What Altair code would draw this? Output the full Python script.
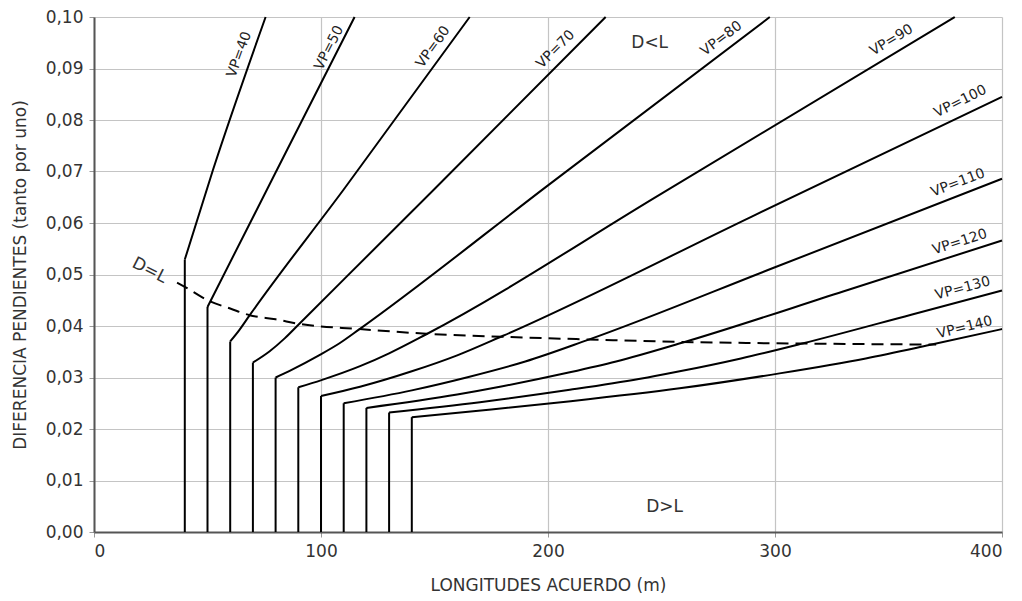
import altair as alt
import pandas as pd

# ---- data ----
VP_NAMES = ["VP=40", "VP=50", "VP=60", "VP=70", "VP=80", "VP=90", "VP=100",
            "VP=110", "VP=120", "VP=130", "VP=140"]

# each curve: vertical part (first two points) then the bending part
VP40_L = [40, 40, 52.4, 75.6]
VP40_D = [0.0, 0.0529, 0.0703, 0.100]
VP50_L = [50, 50, 80, 114.8]
VP50_D = [0.0, 0.0437, 0.0698, 0.100]
VP60_L = [60, 60, 64, 68.6, 110, 165.5]
VP60_D = [0.0, 0.0370, 0.0392, 0.0421, 0.0665, 0.100]
VP70_L = [70, 70, 77.4, 84, 90.6, 150, 225.4]
VP70_D = [0.0, 0.0329, 0.0351, 0.0376, 0.0405, 0.0666, 0.100]
VP80_L = [80, 80, 86.2, 99.5, 108, 117, 200, 297.7]
VP80_D = [0.0, 0.0300, 0.0313, 0.0344, 0.0366, 0.0394, 0.0673, 0.100]
VP90_L = [90, 90, 100.2, 117.2, 130, 146.4, 250, 379.2]
VP90_D = [0.0, 0.0281, 0.0295, 0.0322, 0.0347, 0.0384, 0.0657, 0.100]
VP100_L = [100, 100, 117.2, 140, 160, 180.2, 290, 400]
VP100_D = [0.0, 0.0264, 0.0282, 0.0312, 0.0343, 0.0381, 0.0613, 0.0845]
VP110_L = [110, 110, 140, 165, 190, 217, 300, 400]
VP110_D = [0.0, 0.0250, 0.0275, 0.0301, 0.0331, 0.0372, 0.0514, 0.0686]
VP120_L = [120, 120, 160, 180, 209.6, 230, 259.5, 330, 400]
VP120_D = [0.0, 0.0241, 0.0267, 0.0283, 0.0310, 0.0331, 0.0368, 0.0467, 0.0566]
VP130_L = [130, 130, 170, 209.6, 240, 258, 285, 312, 360, 400]
VP130_D = [0.0, 0.0232, 0.0252, 0.0276, 0.0297, 0.0312, 0.0337, 0.0366, 0.0422, 0.0469]
VP140_L = [140, 140, 175, 210, 258, 302, 340, 368, 400]
VP140_D = [0.0, 0.0223, 0.0238, 0.0254, 0.0279, 0.0308, 0.0337, 0.0363, 0.0394]

# D = L boundary (dashed)
DL_L = [36.6, 40, 51, 60, 68.6, 80, 90.6, 117, 146.4, 180.2, 217, 259.5, 310, 371]
DL_D = [0.0484, 0.0476, 0.0448, 0.0434, 0.0421, 0.0413, 0.0404, 0.0394, 0.0385,
        0.0379, 0.0374, 0.0369, 0.0366, 0.0364]

# curve labels
LAB_TEXT = ["VP=40", "VP=50", "VP=60", "VP=70", "VP=80", "VP=90", "VP=100",
            "VP=110", "VP=120", "VP=130", "VP=140"]
LAB_L = [64.0, 103.6, 149.4, 203.4, 276.4, 351.3, 381.7, 380.6, 381.4, 382.7, 383.6]
LAB_D = [0.0927, 0.0940, 0.0942, 0.0937, 0.0958, 0.0955, 0.0836, 0.0678, 0.0563, 0.0473, 0.0397]
LAB_ANG = [290, 297, 306, 315, 323, 329, 334, 339, 342, 345, 346]

# region labels
REG_TEXT = ["D<L", "D>L", "D=L"]
REG_L = [244.8, 251.4, 24.5]
REG_D = [0.0950, 0.0049, 0.0508]
REG_ANG = [0, 0, 27]

X_TICKS = [0, 100, 200, 300, 400]
Y_TICKS = [0.00, 0.01, 0.02, 0.03, 0.04, 0.05, 0.06, 0.07, 0.08, 0.09, 0.10]

# ---- build tables ----
curves = [VP40_L, VP50_L, VP60_L, VP70_L, VP80_L, VP90_L, VP100_L, VP110_L,
          VP120_L, VP130_L, VP140_L]
values = [VP40_D, VP50_D, VP60_D, VP70_D, VP80_D, VP90_D, VP100_D, VP110_D,
          VP120_D, VP130_D, VP140_D]
rows, vrows = [], []
for name, Ls, Ds in zip(VP_NAMES, curves, values):
    vrows.append({"vp": name, "L": Ls[0], "D0": Ds[0], "D1": Ds[1]})
    for i, (l, d) in enumerate(zip(Ls[1:], Ds[1:])):
        rows.append({"vp": name, "L": l, "D": d, "i": i})
df = pd.DataFrame(rows)
df_v = pd.DataFrame(vrows)
df_dl = pd.DataFrame({"L": DL_L, "D": DL_D, "i": list(range(len(DL_L)))})
df_lab = pd.DataFrame({"t": LAB_TEXT, "L": LAB_L, "D": LAB_D, "a": LAB_ANG})
df_reg = pd.DataFrame({"t": REG_TEXT, "L": REG_L, "D": REG_D, "a": REG_ANG})

FONT = "DejaVu Sans"

xs = alt.Scale(domain=[0, 400], nice=False, zero=False)
ys = alt.Scale(domain=[0, 0.10], nice=False, zero=False)

x_axis = alt.Axis(values=X_TICKS, title="LONGITUDES ACUERDO (m)", grid=True,
                  labelPadding=6, titlePadding=18)
y_axis = alt.Axis(values=Y_TICKS, title="DIFERENCIA PENDIENTES (tanto por uno)",
                  grid=True, labelExpr="replace(format(datum.value, '.2f'), '.', ',')",
                  labelPadding=6, titlePadding=16)

lines = alt.Chart(df).mark_line(color="black", strokeWidth=2,
                                interpolate="monotone").encode(
    x=alt.X("L:Q", scale=xs, axis=x_axis),
    y=alt.Y("D:Q", scale=ys, axis=y_axis),
    detail="vp:N",
    order="i:Q",
)

verticals = alt.Chart(df_v).mark_rule(color="black", strokeWidth=2).encode(
    x=alt.X("L:Q", scale=xs),
    y=alt.Y("D0:Q", scale=ys),
    y2="D1:Q",
)

dashed = alt.Chart(df_dl).mark_line(color="black", strokeWidth=2,
                                    strokeDash=[12, 7],
                                    interpolate="monotone").encode(
    x=alt.X("L:Q", scale=xs),
    y=alt.Y("D:Q", scale=ys),
    order="i:Q",
)

labels = alt.Chart(df_lab).mark_text(font=FONT, fontSize=14, color="#222").encode(
    x=alt.X("L:Q", scale=xs),
    y=alt.Y("D:Q", scale=ys),
    text="t:N",
    angle=alt.Angle("a:Q", scale=None),
)

regions = alt.Chart(df_reg).mark_text(font=FONT, fontSize=17, color="#333").encode(
    x=alt.X("L:Q", scale=xs),
    y=alt.Y("D:Q", scale=ys),
    text="t:N",
    angle=alt.Angle("a:Q", scale=None),
)

chart = alt.layer(lines, verticals, dashed, labels, regions).properties(
    width=908,
    height=515,
    autosize=alt.AutoSizeParams(type="none"),
    padding={"left": 86, "top": 9, "right": 12, "bottom": 62},
).configure_view(stroke=None).configure_axis(
    labelFont=FONT, titleFont=FONT, labelFontSize=17, titleFontSize=17,
    titleFontWeight="normal", labelColor="#333", titleColor="#333",
    gridColor="#c4c4c4", gridWidth=1.2, domainColor="#555", domainWidth=2,
    tickColor="#999", tickSize=5,
)

chart.save("out.html", embed_options={"renderer": "svg", "actions": False})
